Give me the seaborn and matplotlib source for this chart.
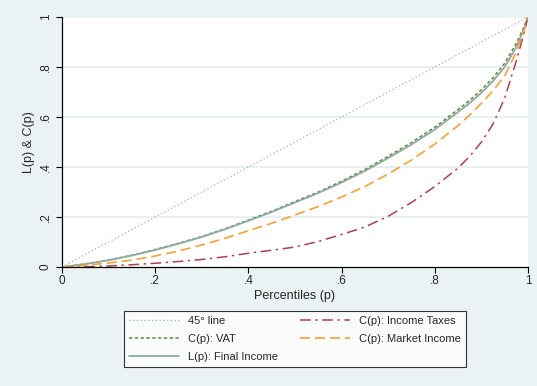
import numpy as np
import pandas as pd
import matplotlib
matplotlib.use("Agg")
import matplotlib.pyplot as plt
import seaborn as sns

# Percentile grid and concentration / Lorenz curve values
percentiles = [0.0, 0.05, 0.10, 0.15, 0.20, 0.25, 0.30, 0.35, 0.40, 0.45, 0.50,
               0.55, 0.60, 0.65, 0.70, 0.75, 0.80, 0.85, 0.875, 0.90, 0.925,
               0.95, 0.975, 0.99, 1.0]
final_income = [0.0, 0.012, 0.027, 0.046, 0.068, 0.093, 0.120, 0.151, 0.185,
                0.220, 0.258, 0.296, 0.338, 0.384, 0.436, 0.490, 0.550, 0.620,
                0.656, 0.697, 0.744, 0.800, 0.880, 0.945, 1.0]
vat = [0.0, 0.012, 0.028, 0.047, 0.070, 0.095, 0.122, 0.153, 0.188, 0.223,
       0.262, 0.300, 0.343, 0.390, 0.443, 0.498, 0.559, 0.630, 0.667, 0.709,
       0.757, 0.815, 0.895, 0.955, 1.0]
market_income = [0.0, 0.007, 0.016, 0.028, 0.044, 0.064, 0.088, 0.115, 0.145,
                 0.175, 0.208, 0.242, 0.280, 0.322, 0.372, 0.428, 0.492, 0.566,
                 0.608, 0.655, 0.705, 0.765, 0.860, 0.935, 1.0]
income_taxes = [0.0, 0.001, 0.004, 0.009, 0.015, 0.022, 0.030, 0.041, 0.055,
                0.067, 0.080, 0.102, 0.130, 0.160, 0.203, 0.258, 0.322, 0.396,
                0.443, 0.500, 0.572, 0.675, 0.825, 0.925, 1.0]

x_ticks = [0, 0.2, 0.4, 0.6, 0.8, 1]
tick_labels = ["0", ".2", ".4", ".6", ".8", "1"]

bg = "#EAF2F3"
sns.set_theme(style="white")
plt.rcParams["font.family"] = ["Liberation Sans", "DejaVu Sans"]

fig = plt.figure(figsize=(5.37, 3.86), dpi=100, facecolor=bg)
ax = fig.add_axes([62 / 537, 1 - 267 / 386, 466 / 537, 250 / 386])
ax.set_facecolor("white")

df = pd.DataFrame({"p": percentiles, "final": final_income, "vat": vat,
                   "market": market_income, "taxes": income_taxes})

series = [
    ("p", "45° line", "#9DB0C6", (1, 2), 0.9),
    ("vat", "C(p): VAT", "#5E8A3C", (2.2, 1.6), 1.1),
    ("final", "L(p): Final Income", "#8FAAA3", None, 1.3),
    ("taxes", "C(p): Income Taxes", "#A8424F", (7, 3, 1.5, 3), 1.1),
    ("market", "C(p): Market Income", "#F2A23A", (6, 3), 1.2),
]
for col, label, color, dash, lw in series:
    sns.lineplot(data=df, x="p", y=col, ax=ax, color=color, lw=lw, label=label)
    line = ax.get_lines()[-1]
    if dash is not None:
        line.set_dashes(dash)

for y in [0.2, 0.4, 0.6, 0.8, 1.0]:
    ax.axhline(y, color="#E4EEF0", lw=1.2, zorder=0)

ax.set_xlim(0, 1)
ax.set_ylim(0, 1)
ax.set_xticks(x_ticks)
ax.set_xticklabels(tick_labels)
ax.set_yticks(x_ticks)
ax.set_yticklabels(tick_labels, rotation=90, va="center")
ax.tick_params(axis="both", which="both", direction="out", length=4, width=0.8,
               color="black", labelsize=8.5, pad=2, bottom=True, left=True)
ax.tick_params(axis="y", pad=3.5)
for side in ["top", "right"]:
    ax.spines[side].set_visible(False)
for side in ["left", "bottom"]:
    ax.spines[side].set_color("black")
    ax.spines[side].set_linewidth(0.9)

ax.set_xlabel("Percentiles (p)", fontsize=9, labelpad=2)
ax.set_ylabel("L(p) & C(p)", fontsize=9)
ax.yaxis.set_label_coords(-0.058, 0.5)

handles, labels = ax.get_legend_handles_labels()
leg = fig.legend(handles, labels, ncol=2, loc="center",
                 bbox_to_anchor=(295 / 537, 1 - 339 / 386), fontsize=8,
                 frameon=True, fancybox=False, edgecolor="black",
                 handlelength=4.5, columnspacing=2.0, handletextpad=0.8,
                 labelspacing=0.7, borderpad=0.5)
leg.get_frame().set_linewidth(0.8)
ax.get_legend().remove()

fig.savefig("out.png", dpi=100, facecolor=bg)
